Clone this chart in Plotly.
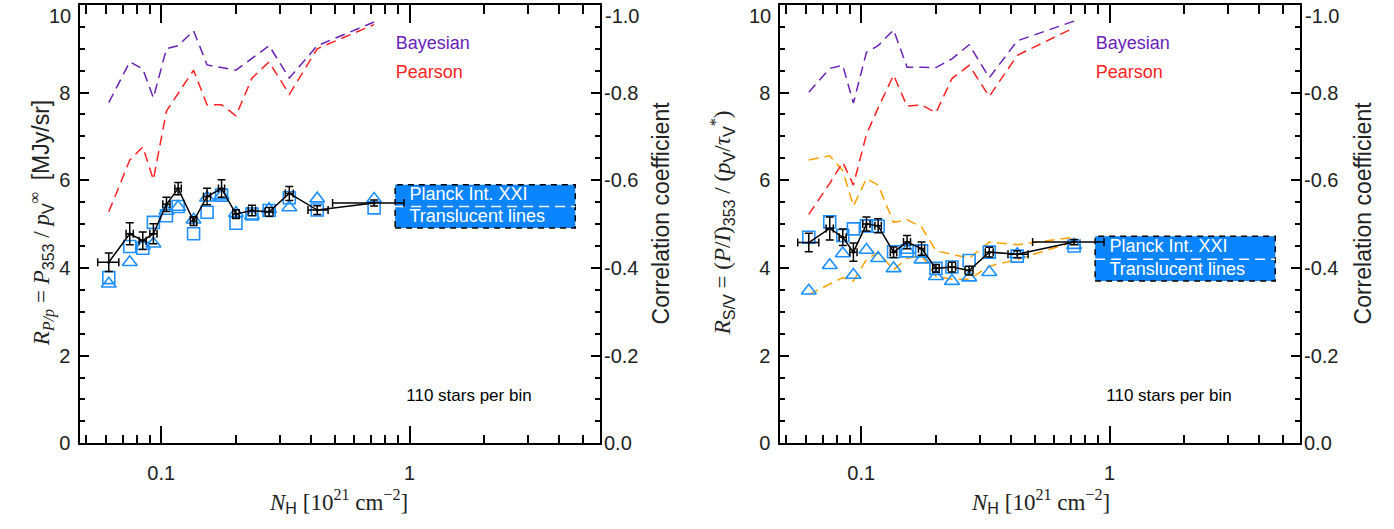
import numpy as np
import plotly.graph_objects as go

W, H = 1394, 529

# ---------------- data ----------------
nh = [0.0615, 0.0747, 0.0843, 0.093, 0.105, 0.117, 0.135, 0.153, 0.175, 0.200,
      0.232, 0.272, 0.328, 0.425, 0.72]
nh_lo = [0.0555, 0.0722, 0.0815, 0.0900, 0.1015, 0.1135, 0.131, 0.148, 0.170, 0.194,
         0.224, 0.262, 0.316, 0.39, 0.49]
nh_hi = [0.0675, 0.0772, 0.0870, 0.0962, 0.1085, 0.1205, 0.139, 0.158, 0.180, 0.206,
         0.240, 0.282, 0.340, 0.47, 0.95]

# left panel: R_P/p
rpp = [4.13, 4.78, 4.62, 4.78, 5.45, 5.81, 5.07, 5.63, 5.81, 5.23, 5.31, 5.28, 5.70, 5.32, 5.48]
rpp_err = [0.21, 0.25, 0.20, 0.23, 0.16, 0.14, 0.10, 0.19, 0.20, 0.10, 0.12, 0.10, 0.16, 0.10, 0.07]
rpp_sq = [3.78, 4.49, 4.45, 5.04, 5.19, 5.40, 4.78, 5.27, 5.66, 5.02, 5.23, 5.31, 5.60, 5.32, 5.37]
rpp_tri = [3.64, 4.13, 4.50, 4.55, 5.30, 5.39, 5.10, 5.60, 5.65, 5.25, 5.19, 5.34, 5.38, 5.58, 5.57]
corr_bayes_l = [-0.777, -0.870, -0.854, -0.788, -0.900, -0.907, -0.941, -0.863, -0.857, -0.851,
                -0.878, -0.907, -0.833, -0.907, -0.961]
corr_pears_l = [-0.528, -0.646, -0.676, -0.601, -0.758, -0.799, -0.851, -0.772, -0.772, -0.747,
                -0.833, -0.870, -0.796, -0.900, -0.955]

# right panel: R_S/V
rsv = [4.58, 4.90, 4.70, 4.36, 5.00, 4.96, 4.36, 4.59, 4.44, 3.99, 4.02, 3.94, 4.36, 4.31, 4.59]
rsv_err = [0.21, 0.26, 0.19, 0.21, 0.16, 0.16, 0.12, 0.15, 0.15, 0.09, 0.11, 0.10, 0.11, 0.08, 0.06]
rsv_sq = [4.70, 5.05, 4.74, 4.89, 4.96, 4.95, 4.37, 4.39, 4.39, 3.99, 4.02, 4.17, 4.36, 4.27, 4.50]
rsv_tri = [3.48, 4.06, 4.33, 3.84, 4.41, 4.22, 3.99, 4.41, 4.19, 3.81, 3.70, 3.78, 3.90, 4.31, 4.52]
rsv_up = [6.46, 6.56, 6.22, 5.41, 6.04, 5.89, 5.04, 5.10, 4.93, 4.39, 4.31, 4.22, 4.59, 4.53, 4.70]
rsv_dn = [3.39, 3.63, 3.78, 3.70, 4.19, 4.36, 3.96, 4.22, 4.28, 3.81, 3.74, 3.74, 4.04, 4.19, 4.60]
corr_bayes_r = [-0.801, -0.855, -0.862, -0.776, -0.892, -0.907, -0.943, -0.858, -0.858, -0.857,
                -0.877, -0.909, -0.834, -0.918, -0.963]
corr_pears_r = [-0.522, -0.593, -0.641, -0.589, -0.705, -0.765, -0.840, -0.769, -0.772, -0.754,
                -0.832, -0.862, -0.791, -0.885, -0.948]

# Planck Int. XXI reference boxes (x range, y low, mid, high)
box_x = [0.875, 4.65]
box_left = [4.91, 5.40, 5.90]
box_right = [3.70, 4.20, 4.72]

ytick_vals = [0, 2, 4, 6, 8, 10]
ytick_text = ["0", "2", "4", "6", "8", ""]
ctick_vals = [0, -0.2, -0.4, -0.6, -0.8, -1.0]
ctick_text = ["0.0", "-0.2", "-0.4", "-0.6", "-0.8", ""]
xtick_vals = [0.1, 1]
xtick_text = ["0.1", "1"]
xminor_vals = [0.05, 0.06, 0.07, 0.08, 0.09, 0.2, 0.3, 0.4, 0.5, 0.6, 0.7, 0.8, 0.9, 2, 3, 4, 5]

# ---------------- style ----------------
SANS = "Liberation Sans, Arial, Helvetica, sans-serif"
SERIF = "Liberation Serif, Times New Roman, serif"
BLUE = "#1e8fff"
BOXBLUE = "#0a84ff"
PURPLE = "#6a22b8"
RED = "#ff2222"
ORANGE = "#ffa000"
DASH = "10px,6px"
TXT = "#222"

fig = go.Figure()

panels = [
    dict(xa="x", ya="y", yc="y3", r=rpp, e=rpp_err, sq=rpp_sq, tri=rpp_tri,
         cb=corr_bayes_l, cp=corr_pears_l, box=box_left, env=None),
    dict(xa="x2", ya="y2", yc="y4", r=rsv, e=rsv_err, sq=rsv_sq, tri=rsv_tri,
         cb=corr_bayes_r, cp=corr_pears_r, box=box_right, env=(rsv_up, rsv_dn)),
]

for p in panels:
    xa, ya, yc = p["xa"], p["ya"], p["yc"]
    # correlation curves (right axis)
    fig.add_trace(go.Scatter(x=nh, y=p["cb"], mode="lines", xaxis=xa, yaxis=yc,
                             line=dict(color=PURPLE, width=1.5, dash=DASH), showlegend=False))
    fig.add_trace(go.Scatter(x=nh, y=p["cp"], mode="lines", xaxis=xa, yaxis=yc,
                             line=dict(color=RED, width=1.5, dash=DASH), showlegend=False))
    # reference box
    bx = [box_x[0], box_x[1], box_x[1], box_x[0], box_x[0]]
    by = [p["box"][0], p["box"][0], p["box"][2], p["box"][2], p["box"][0]]
    fig.add_trace(go.Scatter(x=bx, y=by, mode="lines", fill="toself", fillcolor=BOXBLUE,
                             line=dict(color="black", width=1.5, dash="6px,5px"),
                             xaxis=xa, yaxis=ya, showlegend=False, hoverinfo="skip"))
    fig.add_trace(go.Scatter(x=box_x, y=[p["box"][1]] * 2, mode="lines",
                             line=dict(color="white", width=1.5, dash="10px,6px"),
                             xaxis=xa, yaxis=ya, showlegend=False, hoverinfo="skip"))
    fig.add_trace(go.Scatter(x=[1.0, 1.0],
                             y=[(p["box"][1] + p["box"][2]) / 2, (p["box"][0] + p["box"][1]) / 2],
                             mode="text", text=["Planck Int. XXI", "Translucent lines"],
                             textposition="middle right",
                             textfont=dict(family=SANS, size=18, color="white"),
                             xaxis=xa, yaxis=ya, showlegend=False, hoverinfo="skip"))
    # orange envelopes
    if p["env"] is not None:
        for env in p["env"]:
            fig.add_trace(go.Scatter(x=nh, y=env, mode="lines", xaxis=xa, yaxis=ya,
                                     line=dict(color=ORANGE, width=1.5, dash=DASH),
                                     showlegend=False))
    # blue markers
    fig.add_trace(go.Scatter(x=nh, y=p["sq"], mode="markers", xaxis=xa, yaxis=ya,
                             marker=dict(symbol="square-open", size=12, color=BLUE,
                                         line=dict(width=1.6, color=BLUE)),
                             showlegend=False))
    fig.add_trace(go.Scatter(x=nh, y=p["tri"], mode="markers", xaxis=xa, yaxis=ya,
                             marker=dict(symbol="triangle-up-open", size=13, color=BLUE,
                                         line=dict(width=1.6, color=BLUE)),
                             showlegend=False))
    # black binned values with error bars
    fig.add_trace(go.Scatter(
        x=nh, y=p["r"], mode="lines+markers", xaxis=xa, yaxis=ya,
        line=dict(color="black", width=1.5),
        marker=dict(size=3, color="black"),
        error_y=dict(type="data", array=p["e"], color="black", thickness=1.5, width=4),
        error_x=dict(type="data", symmetric=False,
                     array=[h - c for h, c in zip(nh_hi, nh)],
                     arrayminus=[c - l for l, c in zip(nh_lo, nh)],
                     color="black", thickness=1.5, width=4),
        showlegend=False))
    # labels
    fig.add_trace(go.Scatter(x=[0.88, 0.88], y=[9.10, 8.43], mode="text",
                             text=["Bayesian", "Pearson"], textposition="middle right",
                             textfont=dict(family=SANS, size=18, color=[PURPLE, RED]),
                             xaxis=xa, yaxis=ya, showlegend=False, hoverinfo="skip"))
    fig.add_trace(go.Scatter(x=[0.97], y=[1.06], mode="text",
                             text=["110 stars per bin"], textposition="middle right",
                             textfont=dict(family=SANS, size=17, color="black"),
                             xaxis=xa, yaxis=ya, showlegend=False, hoverinfo="skip"))

ydom = [1 - 452.7 / H, 1 - 5 / H]
xdoms = [[80 / W, 600 / W], [780 / W, 1300 / W]]

def xax(dom, anchor):
    return dict(type="log", range=[-1.327, 0.767], domain=dom, anchor=anchor,
                showline=True, linecolor="black", linewidth=1.5, mirror="ticks",
                ticks="inside", ticklen=18, tickwidth=1.5, tickcolor="black",
                tickvals=xtick_vals, ticktext=xtick_text,
                minor=dict(tickvals=xminor_vals, ticks="inside", ticklen=9,
                           tickwidth=1.5, tickcolor="black"),
                tickfont=dict(family=SANS, size=20, color=TXT),
                ticklabelstandoff=11, showgrid=False, zeroline=False)

def yax(anchor):
    return dict(range=[0, 10], domain=ydom, anchor=anchor,
                showline=True, linecolor="black", linewidth=1.5, mirror="ticks",
                ticks="inside", ticklen=9, tickwidth=1.5, tickcolor="black",
                tickvals=ytick_vals, ticktext=ytick_text,
                minor=dict(dtick=0.5, ticks="inside", ticklen=5, tickwidth=1.5,
                           tickcolor="black"),
                tickfont=dict(family=SANS, size=20, color=TXT),
                ticklabelstandoff=4, showgrid=False, zeroline=False)

def cax(over, anchor):
    return dict(range=[0, -1], overlaying=over, side="right", anchor=anchor,
                showline=False, ticks="inside", ticklen=9, tickwidth=1.5, tickcolor="black",
                tickvals=ctick_vals, ticktext=ctick_text,
                minor=dict(dtick=0.05, ticks="inside", ticklen=5, tickwidth=1.5,
                           tickcolor="black"),
                tickfont=dict(family=SANS, size=20, color=TXT),
                ticklabelstandoff=3, showgrid=False, zeroline=False)

fig.update_layout(
    width=W, height=H, margin=dict(l=0, r=0, t=0, b=0),
    paper_bgcolor="white", plot_bgcolor="rgba(0,0,0,0)",
    showlegend=False,
    xaxis=xax(xdoms[0], "y"), xaxis2=xax(xdoms[1], "y2"),
    yaxis=yax("x"), yaxis2=yax("x2"),
    yaxis3=cax("y", "x"), yaxis4=cax("y2", "x2"),
)

sans = "font-family:Liberation Sans"
ann = []
titles_y = [
    ("<i>R</i><sub><i>P/p</i></sub> = <i>P</i><sub><span style='%s'>353</span></sub> / "
     "<i>p</i><sub><span style='%s'>V</span></sub><sup>∞</sup>  <span style='%s'>[MJy/sr]</span>"
     % (sans, sans, sans), 42),
    ("<i>R</i><sub><span style='%s'>S/V</span></sub> = (<i>P</i>/<i>I</i>)<sub><span style='%s'>353</span></sub> / "
     "(<i>p</i><sub><span style='%s'>V</span></sub>/<i>τ</i><sub><span style='%s'>V</span></sub><sup>*</sup>)"
     % (sans, sans, sans, sans), 722),
]
for t, xp in titles_y:
    ann.append(dict(text=t, x=xp / W, y=1 - 228 / H, xref="paper", yref="paper",
                    textangle=-90, showarrow=False, xanchor="center", yanchor="middle",
                    font=dict(family=SERIF, size=23, color=TXT)))
for xp in [661, 1363]:
    ann.append(dict(text="Correlation coefficient", x=xp / W, y=1 - 218 / H,
                    xref="paper", yref="paper", textangle=-90, showarrow=False,
                    xanchor="center", yanchor="middle",
                    font=dict(family=SANS, size=23, color=TXT)))
xt = ("<i>N</i><sub><span style='%s'>H</span></sub> [10<sup>21</sup> cm<sup>−2</sup>]" % sans)
for xp in [338, 1040]:
    ann.append(dict(text=xt, x=xp / W, y=1 - 512 / H, xref="paper", yref="paper",
                    xanchor="center", yanchor="middle",
                    showarrow=False, font=dict(family=SERIF, size=23, color=TXT)))
# top tick labels (kept inside canvas)
for xp in [73, 773]:
    ann.append(dict(text="10", x=xp / W, y=1 - 16 / H, xref="paper", yref="paper",
                    xanchor="right", yanchor="middle", showarrow=False,
                    font=dict(family=SANS, size=20, color=TXT)))
for xp in [603, 1303]:
    ann.append(dict(text="-1.0", x=xp / W, y=1 - 16 / H, xref="paper", yref="paper",
                    xanchor="left", yanchor="middle", showarrow=False,
                    font=dict(family=SANS, size=20, color=TXT)))
fig.update_layout(annotations=ann)

fig.write_html("out.html", config={"displayModeBar": False},
               post_script="document.body.style.margin='0';document.body.style.padding='0';")
